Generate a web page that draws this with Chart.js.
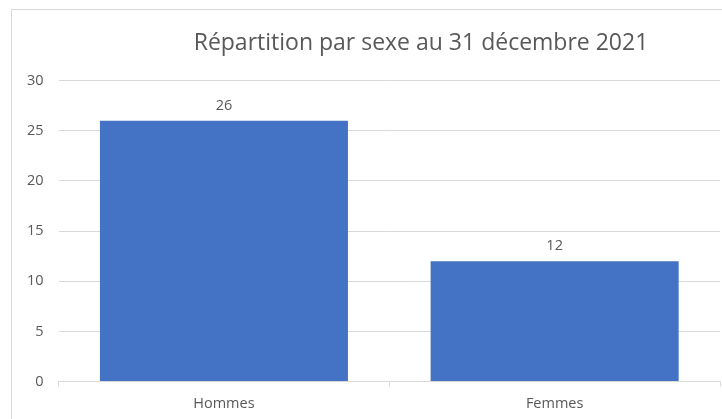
<!DOCTYPE html>
<html>
<head>
<meta charset="utf-8">
<script src="https://cdn.jsdelivr.net/npm/chart.js@4"></script>
<style>
  html, body { margin: 0; padding: 0; background: #fff; overflow: hidden; }
  #frame {
    position: absolute; left: 11px; top: 9px;
    width: 820px; height: 440px;
    border: 1px solid #d9d9d9; box-sizing: border-box;
  }
  #wrap { position: absolute; left: 0; top: 0; width: 818px; height: 412px; }
</style>
</head>
<body>
<div id="frame"><div id="wrap"><canvas id="sexChart"></canvas></div></div>
<script>
const categories = ['Hommes', 'Femmes'];
const effectifs = [26, 12];
const yTicks = [0, 5, 10, 15, 20, 25, 30];
const chartTitle = 'Répartition par sexe au 31 décembre 2021';

const grey = '#595959';
const font = 'Open Sans';

// labels above bars
const valueLabels = {
  id: 'valueLabels',
  afterDatasetsDraw(chart) {
    const ctx = chart.ctx;
    const meta = chart.getDatasetMeta(0);
    ctx.save();
    ctx.font = '14.5px "' + font + '"';
    ctx.fillStyle = grey;
    ctx.textAlign = 'center';
    ctx.textBaseline = 'bottom';
    meta.data.forEach((bar, i) => {
      ctx.fillText(chart.data.datasets[0].data[i], bar.x, bar.y - 8);
    });
    ctx.restore();
  }
};

const ctx = document.getElementById('sexChart').getContext('2d');
new Chart(ctx, {
  type: 'bar',
  data: {
    labels: categories,
    datasets: [{
      data: effectifs,
      backgroundColor: '#4472C4',
      borderWidth: 0,
      categoryPercentage: 1,
      barPercentage: 0.75
    }]
  },
  options: {
    responsive: true,
    maintainAspectRatio: false,
    animation: false,
    layout: { padding: { left: 0, right: 0, top: 0, bottom: 0 } },
    plugins: {
      legend: { display: false },
      tooltip: { enabled: false },
      title: {
        display: true,
        text: chartTitle,
        color: grey,
        font: { family: font, size: 23, weight: 'normal' },
        padding: { top: 20, bottom: 23 }
      }
    },
    scales: {
      x: {
        grid: { offset: true, drawOnChartArea: false, drawTicks: true, tickLength: 5, color: '#d9d9d9' },
        border: { display: true, color: '#d9d9d9' },
        ticks: { color: grey, font: { family: font, size: 14.5 }, padding: 9 }
      },
      y: {
        min: 0,
        max: 30,
        afterBuildTicks: axis => { axis.ticks = yTicks.map(v => ({ value: v })); },
        grid: { color: '#d9d9d9', drawTicks: false },
        border: { display: false },
        ticks: { color: grey, font: { family: font, size: 14.5 }, padding: 15 }
      },
      // empty space on the right so the title centres like the original
      spacer: {
        type: 'linear',
        position: 'right',
        grid: { display: false },
        border: { display: false },
        ticks: { display: false },
        afterFit: s => { s.width = 110; }
      }
    }
  },
  plugins: [valueLabels]
});
</script>
</body>
</html>
